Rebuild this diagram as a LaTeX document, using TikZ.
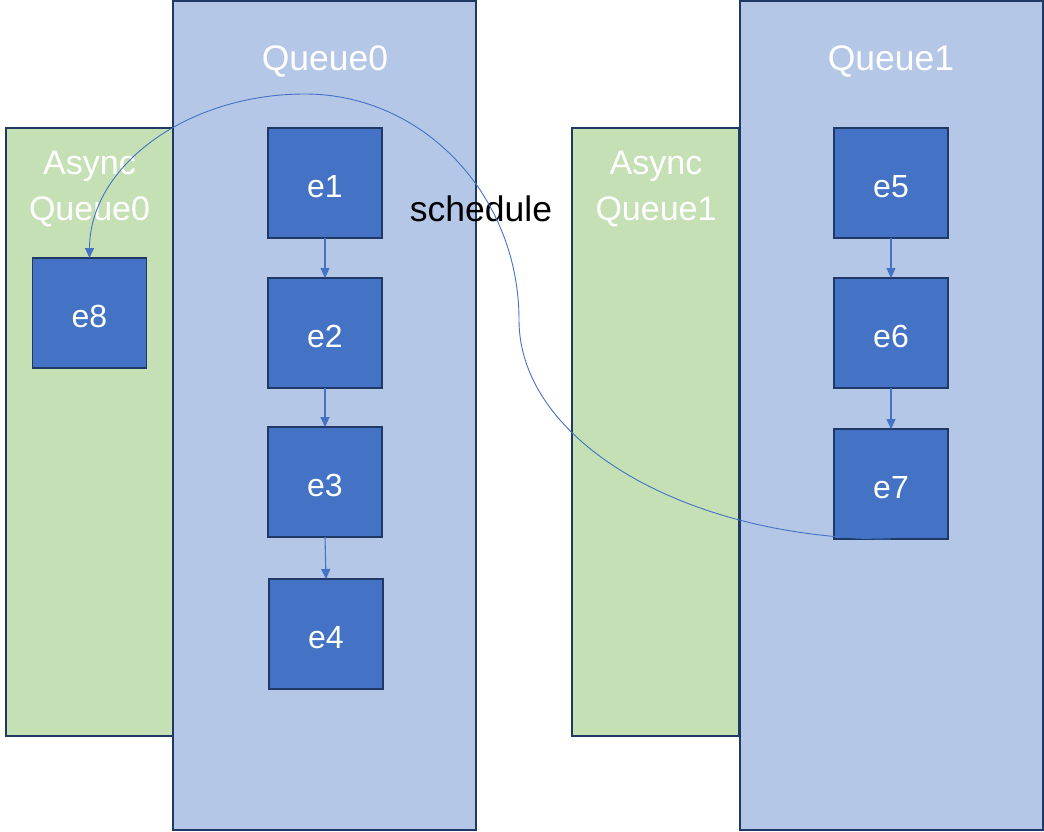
\documentclass[tikz,border=0pt]{standalone}
\usepackage{fontspec}
\setmainfont{Liberation Sans}
\usetikzlibrary{arrows.meta}
\definecolor{panelblue}{HTML}{B4C7E7}
\definecolor{panelgreen}{HTML}{C5E0B4}
\definecolor{boxblue}{HTML}{4472C4}
\definecolor{navy}{HTML}{1F3864}
\definecolor{flowblue}{HTML}{4472C4}
\tikzset{
  panel/.style={draw=navy, line width=1.6pt, anchor=north west, inner sep=0pt, outer sep=0pt},
  qpanel/.style={panel, fill=panelblue, minimum width=303pt, minimum height=829pt},
  apanel/.style={panel, fill=panelgreen, minimum width=167pt, minimum height=608pt},
  title/.style={text=white, font=\fontsize{35.5}{40}\selectfont, anchor=base, inner sep=0pt},
  atitle/.style={text=white, font=\fontsize{34}{46}\selectfont, align=center, anchor=north, inner sep=0pt},
  evt/.style={draw=navy, line width=1.6pt, fill=boxblue, text=white, minimum width=114pt, minimum height=110pt,
    inner sep=0pt, outer sep=0pt, font=\fontsize{32}{36}\selectfont, text height=29pt, text depth=1pt},
  seq/.style={draw=flowblue, line width=1.1pt, -{Triangle[length=10pt,width=9pt]}},
  flow/.style={draw=flowblue, line width=0.9pt, -{Triangle[length=10pt,width=9pt]}},
}
\begin{document}
\begin{tikzpicture}[x=1pt,y=-1pt]
\useasboundingbox (0,0) rectangle (1044,832);
\fill[white] (0,0) rectangle (1044,832);
% panels
\node[apanel] (aq0) at (6,128) {};
\node[qpanel] (q0) at (173,1) {};
\node[apanel] (aq1) at (572,128) {};
\node[qpanel] (q1) at (740,1) {};
% titles
\node[title] (q0t) at (325,71) {Queue0};
\node[title] (q1t) at (891,71) {Queue1};
\node[atitle] (aq0t) at (89.5,151) {Async\\Queue0};
\node[atitle] (aq1t) at (656,151) {Async\\Queue1};
% events
\node[evt] (e1) at (325,183) {e1};
\node[evt] (e2) at (325,333) {e2};
\node[evt] (e3) at (325,482) {e3};
\node[evt] (e4) at (326,634) {e4};
\node[evt] (e5) at (891,183) {e5};
\node[evt] (e6) at (891,333) {e6};
\node[evt] (e7) at (891,484) {e7};
\node[evt] (e8) at (89.5,313) {e8};
% sequence arrows
\draw[seq] (e1) -- (e2);
\draw[seq] (e2) -- (e3);
\draw[seq] (e3.south) -- (e4.north);
\draw[seq] (e5) -- (e6);
\draw[seq] (e6) -- (e7);
% schedule label
\node[text=black, font=\fontsize{35.5}{40}\selectfont, anchor=base, inner sep=0pt] (sched) at (481,221) {schedule};
% schedule curve
\draw[flow] (e7.south) .. controls (686,539) and (519,441) .. (519,320)
  .. controls (519,195) and (423,94) .. (305,94)
  .. controls (186,94) and (89.5,167) .. (e8.north);
\end{tikzpicture}
\end{document}
